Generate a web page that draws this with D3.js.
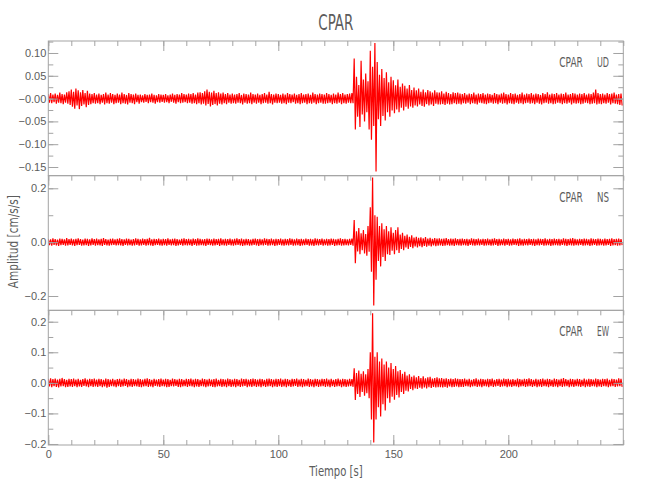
<!DOCTYPE html>
<html><head><meta charset="utf-8">
<script src="https://cdn.jsdelivr.net/npm/d3@7"></script>
<style>body{margin:0;background:#fff}svg{display:block}</style>
</head><body>
<script>
// ---------------- data ----------------
const titleText = "CPAR";
const station = "CPAR";
const components = ["UD", "NS", "EW"];
const xLabel = "Tiempo [s]";
const yLabel = "Amplitud [cm/s/s]";
const timeDomain = [0, 250];
const sampleStep = 1; // seconds between envelope samples
const xMajorTicks = [0, 50, 100, 150, 200];
const xTickLabels = ["0", "50", "100", "150", "200"];
const xMinorStep = 10;

const udRange = [-0.169, 0.1263];
const nsRange = [-0.2532, 0.2469];
const ewRange = [-0.2033, 0.2372];
const udTicks = [0.10, 0.05, 0, -0.05, -0.10, -0.15];
const udTickLabels = ["0.10", "0.05", "\u22120.00", "\u22120.05", "\u22120.10", "\u22120.15"];
const nsTicks = [0.2, 0, -0.2];
const nsTickLabels = ["0.2", "0.0", "\u22120.2"];
const ewTicks = [0.2, 0.1, 0, -0.1, -0.2];
const ewTickLabels = ["0.2", "0.1", "0.0", "\u22120.1", "\u22120.2"];
const udMinorStep = 0.025, nsMinorStep = 0.1, ewMinorStep = 0.05;

// per-second maximum / minimum of each trace (cm/s/s)
const udMax = [
.010,.012,.009,.011,.008,.013,.010,.009,.014,.016,
.020,.015,.022,.018,.014,.019,.012,.017,.011,.010,
.012,.009,.011,.008,.010,.013,.009,.012,.010,.008,
.011,.009,.013,.010,.008,.012,.010,.009,.011,.008,
.009,.007,.010,.008,.009,.011,.008,.007,.010,.009,
.008,.010,.007,.009,.011,.008,.010,.009,.012,.010,
.009,.011,.010,.012,.009,.013,.014,.012,.016,.020,
.015,.013,.017,.012,.014,.011,.013,.010,.012,.009,
.011,.009,.010,.012,.008,.011,.010,.009,.013,.010,
.009,.011,.008,.010,.012,.009,.015,.010,.009,.011,
.010,.008,.011,.009,.012,.010,.009,.011,.008,.010,
.012,.009,.010,.011,.008,.013,.010,.009,.011,.010,
.009,.012,.010,.008,.011,.009,.013,.010,.012,.009,
.010,.011,.012,.088,.048,.030,.083,.042,.055,.038,
.105,.070,.122,.080,.052,.065,.045,.058,.036,.048,
.040,.029,.042,.026,.033,.028,.022,.030,.019,.024,
.018,.022,.015,.020,.014,.019,.016,.013,.018,.014,
.013,.016,.011,.015,.012,.010,.014,.012,.013,.011,
.010,.012,.009,.011,.010,.013,.009,.011,.010,.012,
.009,.011,.010,.008,.012,.010,.009,.011,.013,.010,
.009,.012,.010,.011,.008,.010,.013,.009,.011,.010,
.012,.009,.011,.010,.008,.012,.010,.014,.009,.011,
.010,.012,.009,.011,.010,.013,.009,.010,.012,.011,
.009,.011,.010,.012,.009,.011,.010,.013,.020,.012,
.010,.011,.009,.012,.010,.011,.013,.009,.010,.011];
const udMin = [
-.009,-.010,-.008,-.011,-.009,-.010,-.012,-.009,-.011,-.014,
-.018,-.022,-.015,-.023,-.016,-.013,-.019,-.014,-.012,-.010,
-.011,-.010,-.012,-.009,-.013,-.010,-.011,-.009,-.012,-.010,
-.009,-.012,-.010,-.011,-.013,-.009,-.010,-.012,-.008,-.011,
-.008,-.009,-.007,-.010,-.008,-.009,-.011,-.008,-.009,-.007,
-.009,-.008,-.010,-.007,-.009,-.011,-.008,-.010,-.009,-.008,
-.010,-.009,-.011,-.010,-.012,-.010,-.013,-.011,-.015,-.012,
-.017,-.014,-.012,-.015,-.011,-.013,-.010,-.012,-.009,-.011,
-.010,-.011,-.009,-.010,-.013,-.009,-.011,-.010,-.012,-.009,
-.011,-.009,-.012,-.010,-.009,-.011,-.010,-.013,-.009,-.010,
-.009,-.011,-.010,-.012,-.009,-.010,-.008,-.011,-.010,-.012,
-.010,-.009,-.012,-.010,-.011,-.009,-.012,-.010,-.009,-.011,
-.011,-.010,-.009,-.012,-.010,-.011,-.009,-.012,-.010,-.011,
-.009,-.010,-.010,-.068,-.040,-.062,-.035,-.050,-.030,-.068,
-.090,-.060,-.160,-.045,-.060,-.038,-.048,-.030,-.040,-.026,
-.032,-.024,-.030,-.020,-.026,-.018,-.022,-.017,-.020,-.015,
-.017,-.013,-.016,-.018,-.012,-.015,-.013,-.016,-.011,-.013,
-.013,-.012,-.014,-.011,-.013,-.012,-.010,-.012,-.011,-.013,
-.010,-.011,-.009,-.012,-.010,-.011,-.013,-.009,-.010,-.011,
-.012,-.010,-.009,-.011,-.010,-.012,-.009,-.011,-.010,-.013,
-.010,-.011,-.012,-.009,-.011,-.010,-.012,-.010,-.009,-.011,
-.010,-.012,-.009,-.011,-.013,-.010,-.009,-.011,-.010,-.012,
-.011,-.009,-.010,-.012,-.010,-.011,-.009,-.013,-.010,-.011,
-.010,-.012,-.011,-.009,-.010,-.012,-.011,-.010,-.013,-.011,
-.012,-.010,-.011,-.009,-.013,-.010,-.011,-.012,-.014,-.015];

const nsMax = [
.012,.010,.014,.011,.009,.013,.012,.010,.015,.011,
.013,.010,.012,.014,.011,.009,.013,.012,.010,.014,
.011,.013,.010,.012,.015,.011,.009,.012,.013,.010,
.012,.014,.011,.010,.013,.012,.009,.011,.014,.012,
.010,.013,.011,.012,.016,.010,.012,.011,.013,.010,
.012,.011,.014,.010,.012,.013,.011,.009,.012,.014,
.011,.012,.010,.013,.011,.014,.012,.010,.011,.013,
.012,.010,.013,.011,.012,.014,.010,.012,.011,.013,
.010,.012,.014,.011,.013,.010,.012,.011,.009,.012,
.013,.011,.012,.010,.014,.012,.011,.013,.010,.012,
.011,.013,.010,.012,.011,.014,.012,.010,.013,.011,
.012,.010,.013,.011,.012,.010,.014,.012,.011,.013,
.010,.012,.011,.013,.012,.010,.012,.014,.011,.012,
.010,.012,.013,.082,.040,.052,.033,.045,.030,.060,
.130,.240,.100,.094,.060,.070,.048,.060,.040,.055,
.035,.045,.055,.028,.035,.024,.028,.020,.025,.017,
.020,.016,.018,.014,.019,.013,.016,.012,.015,.013,
.014,.012,.013,.015,.011,.013,.012,.014,.011,.012,
.013,.011,.012,.010,.014,.012,.011,.013,.010,.012,
.011,.013,.010,.012,.014,.011,.012,.010,.013,.011,
.012,.010,.013,.011,.012,.014,.010,.012,.011,.013,
.011,.012,.010,.013,.012,.011,.014,.010,.012,.011,
.013,.011,.012,.010,.014,.012,.011,.013,.015,.012,
.010,.012,.011,.013,.012,.010,.014,.012,.011,.013,
.012,.010,.013,.011,.012,.014,.011,.012,.013,.011];
const nsMin = [
-.011,-.013,-.010,-.012,-.014,-.011,-.010,-.013,-.012,-.010,
-.012,-.014,-.011,-.010,-.013,-.012,-.011,-.014,-.012,-.010,
-.013,-.011,-.012,-.014,-.010,-.012,-.013,-.011,-.010,-.012,
-.011,-.012,-.014,-.010,-.012,-.011,-.013,-.012,-.010,-.013,
-.012,-.010,-.013,-.011,-.012,-.014,-.011,-.010,-.012,-.013,
-.011,-.013,-.010,-.012,-.011,-.014,-.012,-.010,-.013,-.011,
-.012,-.011,-.014,-.010,-.013,-.012,-.011,-.012,-.014,-.010,
-.011,-.013,-.012,-.010,-.014,-.011,-.012,-.013,-.010,-.012,
-.013,-.011,-.010,-.012,-.014,-.012,-.011,-.013,-.012,-.010,
-.012,-.014,-.011,-.012,-.010,-.013,-.012,-.011,-.014,-.012,
-.010,-.012,-.013,-.011,-.012,-.010,-.013,-.012,-.011,-.014,
-.012,-.011,-.010,-.013,-.012,-.014,-.011,-.012,-.010,-.013,
-.011,-.013,-.012,-.010,-.014,-.012,-.011,-.013,-.012,-.011,
-.012,-.010,-.013,-.078,-.035,-.045,-.030,-.042,-.050,-.036,
-.110,-.235,-.140,-.070,-.090,-.055,-.070,-.045,-.048,-.032,
-.045,-.030,-.040,-.025,-.030,-.020,-.025,-.018,-.022,-.016,
-.020,-.015,-.019,-.014,-.017,-.013,-.016,-.012,-.015,-.013,
-.012,-.014,-.013,-.011,-.013,-.012,-.014,-.011,-.012,-.013,
-.011,-.012,-.014,-.010,-.012,-.013,-.011,-.012,-.010,-.013,
-.012,-.011,-.013,-.012,-.010,-.014,-.012,-.011,-.013,-.010,
-.013,-.012,-.010,-.011,-.014,-.012,-.013,-.011,-.012,-.010,
-.012,-.014,-.011,-.012,-.010,-.013,-.012,-.011,-.014,-.012,
-.011,-.012,-.013,-.010,-.012,-.014,-.011,-.012,-.013,-.011,
-.012,-.010,-.013,-.012,-.011,-.014,-.012,-.010,-.013,-.012,
-.011,-.013,-.012,-.010,-.014,-.012,-.011,-.013,-.012,-.011];

const ewMax = [
.013,.015,.012,.014,.011,.013,.016,.012,.010,.013,
.012,.014,.011,.013,.010,.012,.015,.011,.013,.012,
.014,.011,.013,.012,.010,.014,.012,.011,.013,.010,
.012,.013,.011,.014,.012,.010,.013,.012,.011,.014,
.012,.011,.013,.015,.012,.010,.013,.011,.012,.014,
.011,.013,.012,.010,.014,.012,.011,.013,.012,.010,
.013,.012,.014,.011,.013,.012,.010,.014,.012,.011,
.013,.011,.012,.014,.010,.013,.012,.011,.014,.012,
.011,.013,.012,.010,.014,.012,.013,.011,.012,.014,
.012,.011,.013,.012,.010,.013,.014,.012,.011,.013,
.012,.014,.011,.013,.012,.010,.013,.012,.014,.011,
.013,.012,.010,.014,.012,.011,.013,.012,.011,.013,
.012,.014,.011,.013,.010,.012,.014,.011,.013,.012,
.011,.013,.012,.048,.032,.040,.030,.038,.028,.045,
.100,.228,.085,.100,.070,.080,.060,.070,.050,.065,
.045,.055,.038,.042,.030,.036,.024,.028,.020,.024,
.018,.022,.016,.021,.015,.018,.020,.014,.016,.018,
.015,.016,.013,.015,.012,.014,.012,.015,.013,.012,
.012,.014,.011,.013,.010,.012,.015,.011,.013,.012,
.011,.013,.012,.014,.010,.012,.013,.011,.014,.012,
.013,.011,.012,.010,.014,.012,.011,.013,.012,.015,
.012,.010,.013,.011,.012,.014,.011,.013,.012,.010,
.014,.012,.011,.013,.016,.012,.010,.013,.012,.011,
.013,.012,.010,.014,.011,.013,.012,.011,.014,.012,
.011,.013,.012,.014,.010,.013,.012,.011,.015,.013];
const ewMin = [
-.012,-.014,-.011,-.013,-.015,-.012,-.011,-.014,-.013,-.012,
-.013,-.011,-.014,-.012,-.013,-.010,-.012,-.014,-.011,-.013,
-.012,-.013,-.011,-.014,-.012,-.016,-.013,-.011,-.012,-.014,
-.011,-.013,-.012,-.010,-.014,-.012,-.013,-.011,-.012,-.013,
-.014,-.012,-.011,-.013,-.012,-.014,-.010,-.012,-.013,-.011,
-.012,-.014,-.013,-.011,-.012,-.010,-.013,-.014,-.012,-.011,
-.013,-.011,-.012,-.014,-.012,-.013,-.011,-.012,-.014,-.012,
-.011,-.013,-.014,-.012,-.011,-.013,-.012,-.014,-.011,-.013,
-.012,-.014,-.011,-.013,-.012,-.010,-.014,-.012,-.013,-.011,
-.013,-.012,-.014,-.011,-.013,-.012,-.011,-.014,-.012,-.013,
-.011,-.013,-.012,-.014,-.011,-.013,-.012,-.010,-.013,-.012,
-.014,-.012,-.011,-.013,-.012,-.014,-.011,-.013,-.012,-.011,
-.013,-.012,-.014,-.011,-.013,-.012,-.011,-.014,-.012,-.013,
-.012,-.011,-.013,-.056,-.036,-.046,-.030,-.042,-.034,-.050,
-.120,-.195,-.120,-.080,-.110,-.070,-.090,-.050,-.065,-.045,
-.055,-.040,-.048,-.030,-.036,-.026,-.028,-.020,-.024,-.018,
-.020,-.016,-.019,-.015,-.018,-.014,-.017,-.013,-.015,-.014,
-.014,-.015,-.013,-.016,-.012,-.014,-.013,-.012,-.014,-.013,
-.013,-.011,-.012,-.014,-.012,-.011,-.013,-.012,-.014,-.011,
-.012,-.014,-.011,-.013,-.012,-.010,-.013,-.012,-.011,-.014,
-.012,-.013,-.011,-.012,-.014,-.012,-.011,-.013,-.012,-.011,
-.013,-.011,-.014,-.012,-.013,-.011,-.012,-.014,-.011,-.013,
-.012,-.014,-.011,-.013,-.012,-.011,-.014,-.012,-.013,-.011,
-.012,-.013,-.011,-.014,-.012,-.013,-.011,-.012,-.014,-.012,
-.013,-.011,-.012,-.014,-.012,-.011,-.013,-.012,-.011,-.013];

// ---------------- drawing ----------------
const W = 650, H = 500;
const plotLeft = 48.3, plotRight = 623.3, plotTop = 41, plotBottom = 445;
const panelH = (plotBottom - plotTop) / 3;
const axisColor = "#a3a3a3", textColor = "#5c5c5c", traceColor = "#ff0000";
const numFont = "'Liberation Sans', Arial, sans-serif";
const txtFont = "'Liberation Sans Narrow', 'DejaVu Sans Condensed', 'Liberation Sans', sans-serif";

const svg = d3.select("body").append("svg").attr("width", W).attr("height", H);
const x = d3.scaleLinear().domain(timeDomain).range([plotLeft, plotRight]);

const panels = [
  {comp: components[0], range: udRange, ticks: udTicks, labels: udTickLabels, minor: udMinorStep, hi: udMax, lo: udMin},
  {comp: components[1], range: nsRange, ticks: nsTicks, labels: nsTickLabels, minor: nsMinorStep, hi: nsMax, lo: nsMin},
  {comp: components[2], range: ewRange, ticks: ewTicks, labels: ewTickLabels, minor: ewMinorStep, hi: ewMax, lo: ewMin}
];

const xMinor = d3.range(timeDomain[0], timeDomain[1] + 0.001, xMinorStep);

function styleAxis(g) {
  g.select(".domain").remove();
  g.selectAll(".tick line").attr("stroke", axisColor).attr("stroke-width", 1);
  g.selectAll(".tick text").attr("fill", textColor).attr("font-family", numFont).attr("font-size", 11);
}

panels.forEach((p, k) => {
  const y0 = plotTop + k * panelH, y1 = y0 + panelH;
  const y = d3.scaleLinear().domain(p.range).range([y1, y0]);

  const cid = "clip" + k;
  svg.append("clipPath").attr("id", cid).append("rect")
    .attr("x", plotLeft).attr("y", y0 - 1).attr("width", plotRight - plotLeft).attr("height", panelH + 2);

  // trace: alternate max and min samples
  const pts = [];
  p.hi.forEach((v, i) => {
    pts.push([i * sampleStep, v]);
    pts.push([i * sampleStep + sampleStep / 2, p.lo[i]]);
  });
  const line = d3.line().x(d => x(d[0])).y(d => y(d[1]));
  svg.append("path").attr("d", line(pts)).attr("fill", "none")
    .attr("stroke", traceColor).attr("stroke-width", 1.2).attr("stroke-linejoin", "bevel")
    .attr("clip-path", `url(#${cid})`);

  svg.append("rect").attr("x", plotLeft).attr("y", y0).attr("width", plotRight - plotLeft).attr("height", panelH)
    .attr("fill", "none").attr("stroke", axisColor).attr("stroke-width", 1);

  const lo = Math.ceil(p.range[0] / p.minor - 1e-6), hi = Math.floor(p.range[1] / p.minor + 1e-6);
  const yMinor = d3.range(lo, hi + 1).map(v => v * p.minor);
  svg.append("g").attr("transform", `translate(${plotLeft},0)`)
    .call(d3.axisLeft(y).tickValues(yMinor).tickSize(-5).tickFormat("")).call(styleAxis);
  svg.append("g").attr("transform", `translate(${plotRight},0)`)
    .call(d3.axisRight(y).tickValues(yMinor).tickSize(-5).tickFormat("")).call(styleAxis);
  svg.append("g").attr("transform", `translate(${plotLeft},0)`)
    .call(d3.axisLeft(y).tickValues(p.ticks).tickSize(-10).tickPadding(2)
      .tickFormat((d, i) => p.labels[i])).call(styleAxis);
  svg.append("g").attr("transform", `translate(${plotRight},0)`)
    .call(d3.axisRight(y).tickValues(p.ticks).tickSize(-10).tickFormat("")).call(styleAxis);

  svg.append("g").attr("transform", `translate(0,${y0})`)
    .call(d3.axisTop(x).tickValues(xMinor).tickSize(-5).tickFormat("")).call(styleAxis);
  svg.append("g").attr("transform", `translate(0,${y0})`)
    .call(d3.axisTop(x).tickValues(xMajorTicks).tickSize(-10).tickFormat("")).call(styleAxis);

  if (k === panels.length - 1) {
    svg.append("g").attr("transform", `translate(0,${y1})`)
      .call(d3.axisBottom(x).tickValues(xMinor).tickSize(-5).tickFormat("")).call(styleAxis);
    svg.append("g").attr("transform", `translate(0,${y1})`)
      .call(d3.axisBottom(x).tickValues(xMajorTicks).tickSize(-10).tickPadding(5)
        .tickFormat((d, i) => xTickLabels[i])).call(styleAxis);
  }

  svg.append("text").attr("x", 559.3).attr("y", y0 + 26)
    .attr("font-family", txtFont).attr("font-size", 14.5).attr("fill", textColor)
    .attr("textLength", 23.5).attr("lengthAdjust", "spacingAndGlyphs").text(station);
  svg.append("text").attr("x", 597).attr("y", y0 + 26)
    .attr("font-family", txtFont).attr("font-size", 14.5).attr("fill", textColor)
    .attr("textLength", 12).attr("lengthAdjust", "spacingAndGlyphs").text(p.comp);
});

svg.append("text").attr("x", 318.3).attr("y", 30)
  .attr("font-family", txtFont).attr("font-size", 20.5).attr("fill", textColor)
  .attr("textLength", 35).attr("lengthAdjust", "spacingAndGlyphs").text(titleText);

svg.append("text").attr("x", 309.3).attr("y", 476)
  .attr("font-family", txtFont).attr("font-size", 13.5).attr("fill", textColor)
  .attr("textLength", 53.4).attr("lengthAdjust", "spacingAndGlyphs").text(xLabel);
svg.append("text").attr("transform", "translate(18,241.7) rotate(-90)")
  .attr("text-anchor", "middle")
  .attr("font-family", txtFont).attr("font-size", 13.5).attr("fill", textColor)
  .attr("textLength", 93).attr("lengthAdjust", "spacingAndGlyphs").text(yLabel);
</script>
</body></html>
